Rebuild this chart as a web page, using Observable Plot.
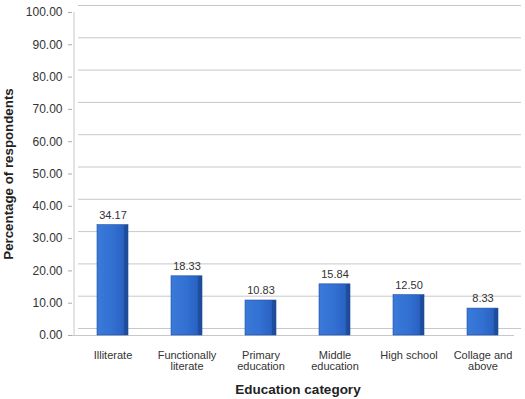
<!DOCTYPE html>
<html><head><meta charset="utf-8">
<script src="https://cdn.jsdelivr.net/npm/d3@7"></script>
<script src="https://cdn.jsdelivr.net/npm/@observablehq/plot@0.6"></script>
<style>
body{margin:0;background:#fff;font-family:"Liberation Sans",Arial,sans-serif;}
</style></head>
<body><div id="chart"></div>
<script>
const categories = ["Illiterate","Functionally literate","Primary education","Middle education","High school","Collage and above"];
const tickLabels = ["Illiterate","Functionally\nliterate","Primary\neducation","Middle\neducation","High school","Collage and\nabove"];
const values = [34.17, 18.33, 10.83, 15.84, 12.50, 8.33];
const yTicks = [0,10,20,30,40,50,60,70,80,90,100];

const data = categories.map((c,i)=>({cat:c, label:tickLabels[i], value:values[i]}));
const font = '"Liberation Sans", Arial, sans-serif';

const chart = Plot.plot({
  width: 525, height: 399,
  marginLeft: 74, marginRight: 4, marginTop: 12, marginBottom: 64,
  style: {fontFamily: font, fontSize: "11px", color: "#333", background: "#fff"},
  x: {domain: categories, paddingInner: 0.575, paddingOuter: 0.2875},
  y: {domain: [0,100]},
  marks: [
    Plot.ruleY(yTicks, {stroke: "#c8c8c8", dy: -7, insetLeft: 4, strokeWidth: 1}),
    Plot.ruleY([0], {stroke: "#c8c8c8", insetLeft: -2, insetRight: 7}),
    Plot.ruleX([categories[0]], {stroke: "#c8c8c8", dx: -39, y1: 0, y2: 100}),
    Plot.axisY({ticks: yTicks, tickFormat: d => d.toFixed(2), tickSize: 4, tickPadding: 6, dx: -2,
      fontSize: 12, fill: "#333", stroke: "#aaa",
      label: "Percentage of respondents", labelAnchor: "center", labelOffset: 71, labelArrow: "none"}),
    Plot.axisX({tickSize: 0, tickPadding: 16, fontSize: 11, fill: "#333",
      tickFormat: d => tickLabels[categories.indexOf(d)],
      label: "Education category", labelAnchor: "center", labelOffset: 58}),
    Plot.barY(data, {x: "cat", y: "value", fill: "url(#barGrad)", stroke: "#1d4ea6", strokeWidth: 0.6}),
    Plot.text(data, {x: "cat", y: "value", text: d => d.value.toFixed(2), dy: -10, fontSize: 11, fill: "#333"})
  ]
});

const svgNS = "http://www.w3.org/2000/svg";
const defs = document.createElementNS(svgNS, "defs");
defs.innerHTML = `<linearGradient id="barGrad" x1="0" x2="1" y1="0" y2="0">
  <stop offset="0" stop-color="#3a7ad8"/>
  <stop offset="0.5" stop-color="#3270d2"/>
  <stop offset="0.85" stop-color="#2a62c2"/>
  <stop offset="0.88" stop-color="#1f4f9e"/>
  <stop offset="1" stop-color="#1d4a96"/>
</linearGradient>`;
chart.insertBefore(defs, chart.firstChild);

chart.querySelectorAll('[aria-label="x-axis label"] text, [aria-label="y-axis label"] text').forEach(t=>{
  t.setAttribute("font-weight","bold");
  t.setAttribute("fill","#222");
});
chart.querySelectorAll('[aria-label="x-axis label"] text').forEach(t=>t.setAttribute("font-size","13.5"));
chart.querySelectorAll('[aria-label="y-axis label"] text').forEach(t=>t.setAttribute("font-size","13.3"));
chart.querySelectorAll('[aria-label="x-axis label"], [aria-label="y-axis label"]').forEach(g=>{
  g.setAttribute("font-weight","bold"); g.setAttribute("fill","#222");
});
document.getElementById("chart").appendChild(chart);
</script></body></html>
